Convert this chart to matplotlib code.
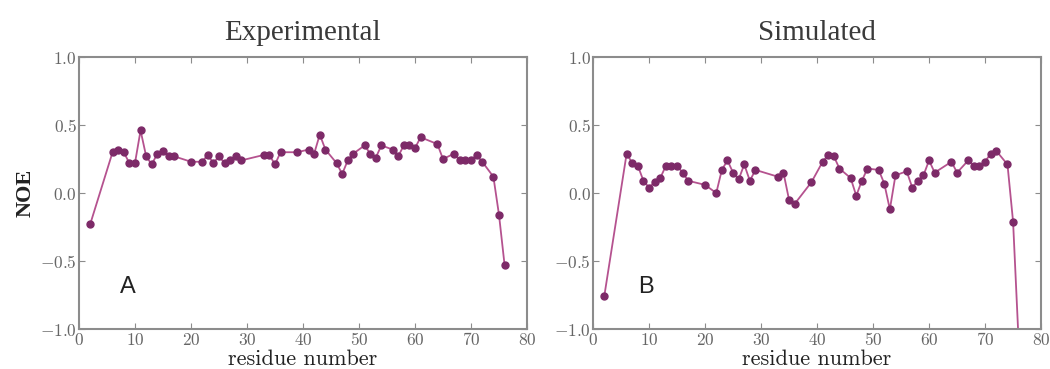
import matplotlib
matplotlib.use('Agg')
import matplotlib.pyplot as plt

plt.rcParams['mathtext.fontset'] = 'cm'

residues = [2, 6, 7, 8, 9, 10, 11, 12, 13, 14, 15, 16, 17, 20, 22, 23, 24, 25, 26, 27, 28, 29,
            33, 34, 35, 36, 39, 41, 42, 43, 44, 46, 47, 48, 49, 51, 52, 53, 54, 56, 57, 58, 59,
            60, 61, 64, 65, 67, 68, 69, 70, 71, 72, 74, 75, 76]

exp_noe = [-0.23, 0.30, 0.32, 0.30, 0.22, 0.22, 0.46, 0.27, 0.21, 0.29, 0.31, 0.27, 0.27, 0.23,
           0.23, 0.28, 0.22, 0.27, 0.22, 0.24, 0.27, 0.24, 0.28, 0.28, 0.21, 0.30, 0.30, 0.32,
           0.29, 0.43, 0.32, 0.22, 0.14, 0.24, 0.29, 0.35, 0.29, 0.26, 0.35, 0.32, 0.27, 0.35,
           0.35, 0.33, 0.41, 0.36, 0.25, 0.29, 0.24, 0.24, 0.24, 0.28, 0.23, 0.12, -0.16, -0.53]

sim_noe = [-0.76, 0.29, 0.22, 0.20, 0.09, 0.04, 0.08, 0.11, 0.20, 0.20, 0.20, 0.15, 0.09, 0.06,
           0.00, 0.17, 0.24, 0.15, 0.10, 0.21, 0.09, 0.17, 0.12, 0.15, -0.05, -0.08, 0.08, 0.23,
           0.28, 0.27, 0.18, 0.11, -0.02, 0.09, 0.18, 0.17, 0.07, -0.12, 0.13, 0.16, 0.04, 0.09,
           0.13, 0.24, 0.15, 0.23, 0.15, 0.24, 0.20, 0.20, 0.23, 0.29, 0.31, 0.21, -0.21, -1.10]

titles = ['Experimental', 'Simulated']
letters = ['A', 'B']
yticks = [-1.0, -0.5, 0.0, 0.5, 1.0]
ytick_labels = [r'$-1.0$', r'$-0.5$', r'$0.0$', r'$0.5$', r'$1.0$']
xticks = [0, 10, 20, 30, 40, 50, 60, 70, 80]

line_color = '#b5528f'
marker_color = '#7d2a68'
spine_color = '#8c8c8c'

fig = plt.figure(figsize=(10.5, 3.69), dpi=100)
positions = [[0.0752, 0.1084, 0.4267, 0.737], [0.5648, 0.1084, 0.4267, 0.737]]
letter_x = [8.8, 9.5]

for k, series in enumerate([exp_noe, sim_noe]):
    ax = fig.add_axes(positions[k])
    ax.plot(residues, series, '-', color=line_color, lw=1.3,
            marker='o', markersize=5, markerfacecolor=marker_color,
            markeredgecolor=marker_color, clip_on=True)
    ax.set_xlim(0, 80)
    ax.set_ylim(-1.0, 1.0)
    ax.set_xticks(xticks)
    ax.set_xticklabels([rf'${v}$' for v in xticks])
    ax.set_yticks(yticks)
    ax.set_yticklabels(ytick_labels)
    ax.tick_params(direction='in', top=True, right=True, length=4, width=0.8,
                   color=spine_color, labelcolor='#666666', labelsize=12.5, pad=1.5)
    for s in ax.spines.values():
        s.set_color(spine_color)
        s.set_linewidth(1.5)
    ax.set_title(titles[k], family='Liberation Serif', fontsize=21, color='#3a3a3a', pad=12)
    ax.set_xlabel('residue number', family='cmr10', fontsize=16, color='#222222', labelpad=0)
    ax.text(letter_x[k], -0.69, letters[k], family='Liberation Sans', fontsize=17,
            color='#222222', ha='center', va='center')
    if k == 0:
        ax.set_ylabel('NOE', family='Liberation Serif', fontweight='bold', fontsize=16,
                      color='#222222', labelpad=3)

fig.savefig('out.png', dpi=100)
